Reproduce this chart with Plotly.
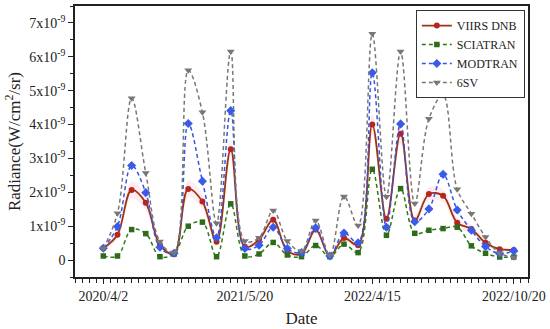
import numpy as np
import plotly.graph_objects as go

# values in units of 1e-9 W/cm^2/sr
viirs = [0.35, 0.75, 2.07, 1.69, 0.45, 0.18, 2.10, 1.73, 0.54, 3.27, 0.39, 0.60, 1.19, 0.27, 0.18,
         0.90, 0.12, 0.65, 0.44, 4.00, 1.22, 3.73, 1.17, 1.95, 1.90, 1.10, 0.92, 0.51, 0.32, 0.30]
viirs_err = [0.08, 0.12, 0.25, 0.22, 0.10, 0.06, 0.25, 0.22, 0.10, 0.30, 0.08, 0.10, 0.15, 0.06, 0.05,
             0.12, 0.05, 0.10, 0.08, 0.30, 0.15, 0.30, 0.15, 0.20, 0.20, 0.15, 0.12, 0.08, 0.06, 0.06]
sciatran = [0.12, 0.12, 0.90, 0.78, 0.10, 0.18, 1.00, 1.12, 0.10, 1.66, 0.12, 0.18, 0.52, 0.15, 0.10,
            0.43, 0.10, 0.47, 0.22, 2.68, 0.73, 2.11, 0.79, 0.88, 0.93, 0.97, 0.42, 0.20, 0.09, 0.09]
modtran = [0.35, 0.99, 2.79, 1.99, 0.38, 0.20, 4.03, 2.33, 0.66, 4.41, 0.34, 0.44, 0.97, 0.34, 0.22,
           0.95, 0.12, 0.80, 0.51, 5.53, 0.97, 4.02, 1.13, 1.51, 2.53, 1.48, 0.88, 0.40, 0.19, 0.27]
sixsv = [0.34, 1.38, 4.78, 2.57, 0.55, 0.22, 5.60, 4.36, 1.09, 6.16, 0.56, 0.66, 1.46, 0.56, 0.27,
         1.17, 0.14, 1.88, 1.02, 6.68, 1.87, 6.16, 1.67, 4.17, 4.87, 2.09, 1.37, 0.68, 0.20, 0.08]

tick_idx = [0, 10, 19, 29]
tick_labels = ["2020/4/2", "2021/5/20", "2022/4/15", "2022/10/20"]
y_ticks = [0, 1, 2, 3, 4, 5, 6, 7]

x = list(range(len(viirs)))
scale = 1e-9
v = np.array(viirs) * scale
e = np.array(viirs_err) * scale

FONT = "Liberation Serif"
DASH = "4px,3px"
fig = go.Figure()

# faint band around VIIRS DNB
fig.add_trace(go.Scatter(x=x, y=v + e, mode="lines", line=dict(width=0, shape="spline"),
                         showlegend=False, hoverinfo="skip"))
fig.add_trace(go.Scatter(x=x, y=v - e, mode="lines", line=dict(width=0, shape="spline"),
                         fill="tonexty", fillcolor="rgba(255,170,200,0.22)",
                         showlegend=False, hoverinfo="skip"))

fig.add_trace(go.Scatter(x=x, y=v, name="VIIRS DNB", mode="lines+markers",
                         line=dict(color="#9A3412", width=1.8, shape="spline"),
                         marker=dict(symbol="circle", size=6, color="#B5271E")))
fig.add_trace(go.Scatter(x=x, y=np.array(sciatran) * scale, name="SCIATRAN", mode="lines+markers",
                         line=dict(color="#2E7A14", width=1.5, dash=DASH, shape="spline"),
                         marker=dict(symbol="square", size=5.5, color="#2E6B1A")))
fig.add_trace(go.Scatter(x=x, y=np.array(modtran) * scale, name="MODTRAN", mode="lines+markers",
                         line=dict(color="#3355E6", width=1.5, dash=DASH, shape="spline"),
                         marker=dict(symbol="diamond", size=7, color="#3A5BEA")))
fig.add_trace(go.Scatter(x=x, y=np.array(sixsv) * scale, name="6SV", mode="lines+markers",
                         line=dict(color="#777777", width=1.5, dash=DASH, shape="spline"),
                         marker=dict(symbol="triangle-down", size=7, color="#777777")))

fig.update_layout(
    width=550, height=329,
    margin=dict(l=75, r=22, t=4, b=52),
    paper_bgcolor="white", plot_bgcolor="white",
    font=dict(family=FONT, size=14, color="#222"),
    legend=dict(x=0.993, y=0.985, xanchor="right", yanchor="top", traceorder="normal",
                bgcolor="white", bordercolor="#333", borderwidth=1,
                font=dict(family=FONT, size=12, color="#222"),
                itemwidth=30, tracegroupgap=0),
)
fig.update_xaxes(
    range=[-2, 30], tickmode="array", tickvals=tick_idx, ticktext=tick_labels,
    showgrid=False, zeroline=False, showline=True, linecolor="#222", linewidth=1.5, mirror=True,
    ticks="outside", ticklen=5, tickwidth=1.2, tickcolor="#222",
    minor=dict(tick0=0, dtick=0.5, ticks="outside", ticklen=4, tickwidth=1, tickcolor="#222"),
    title=dict(text="Date", font=dict(family=FONT, size=17), standoff=10),
    tickfont=dict(family=FONT, size=14),
)
fig.update_yaxes(
    range=[-0.5e-9, 7.5e-9], tickmode="array",
    tickvals=[t * scale for t in y_ticks],
    ticktext=["0" if t == 0 else f"{t}x10<sup>-9</sup>" for t in y_ticks],
    showgrid=False, zeroline=False, showline=True, linecolor="#222", linewidth=1.5, mirror=True,
    ticks="outside", ticklen=5, tickwidth=1.2, tickcolor="#222",
    minor=dict(tick0=0, dtick=0.5e-9, ticks="outside", ticklen=3, tickwidth=1, tickcolor="#222"),
    title=dict(text="Radiance(W/cm<sup>2</sup>/sr)", font=dict(family=FONT, size=17), standoff=4),
    tickfont=dict(family=FONT, size=14),
)

fig.write_html("out.html", config={"displayModeBar": False},
               post_script="document.body.style.margin='0';")
